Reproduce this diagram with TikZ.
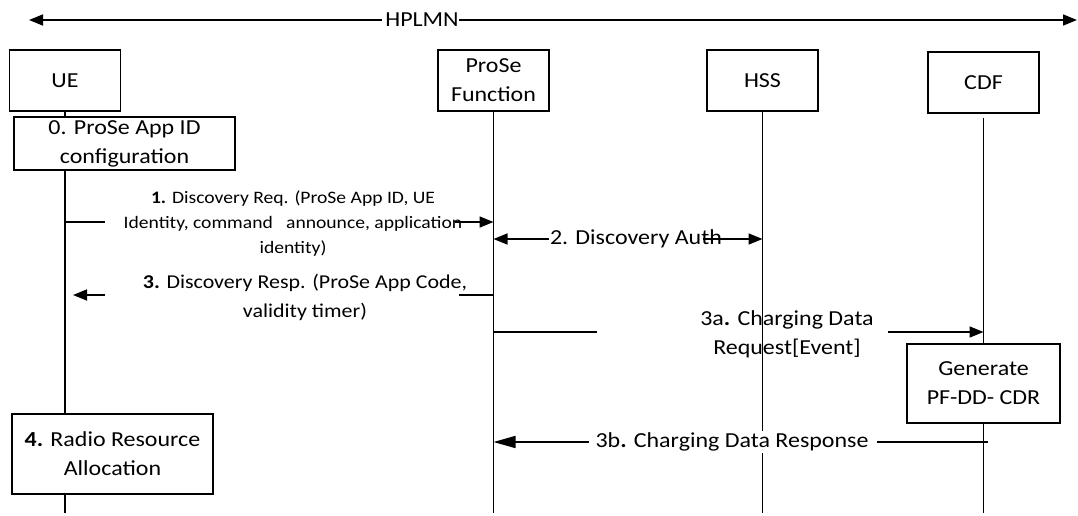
\documentclass[tikz,border=0pt]{standalone}
\usepackage{fontspec}
\setmainfont{Carlito}[FakeStretch=1.12]
\usetikzlibrary{arrows.meta}

\newcommand{\boxfont}{\fontsize{21.4}{29}\selectfont}
\newcommand{\reqfont}{\fontsize{17.5}{25}\selectfont}
\newcommand{\respfont}{\fontsize{19.6}{29}\selectfont}

\tikzset{
	entity/.style={draw, fill=white, minimum width=111pt, minimum height=61pt, align=center, inner sep=0pt, font=\boxfont},
	stepbox/.style={draw, fill=white, align=center, inner sep=0pt, font=\boxfont},
	msg/.style={align=center, inner sep=0pt},
	tip/.style={-{Triangle[length=14pt,width=11pt]}},
	bigtip/.style={-{Triangle[length=22pt,width=12pt]}}
}

\begin{document}
\begin{tikzpicture}[x=1pt,y=-1pt,line width=1.6pt]
	\useasboundingbox (0,0) rectangle (1078,515);
	\coordinate (bot) at (0,513);
	
	% network span
	\node[font=\boxfont, inner sep=0pt] (plmn) at (422,20) {HPLMN};
	\coordinate (plmnL) at (29,20);
	\coordinate (plmnR) at (1077,20);
	\draw[tip] ([xshift=-3pt]plmn.west) -- (plmnL);
	\draw[tip] (plmn.east) -- (plmnR);
	
	% entities and their lifelines
	\node[entity] (ue) at (65,80.5) {UE};
	\node[entity] (pf) at (493.5,80.5) {ProSe\\Function};
	\node[entity] (hss) at (762.5,80.5) {HSS};
	\node[entity] (cdf) at (983.5,82.5) {CDF};
	\foreach \n in {ue,pf,hss}
		\draw (\n.south) -- (\n.south |- bot);
	\draw ([yshift=-4pt]cdf.south) -- (cdf.south |- bot);
	
	% local steps
	\node[stepbox, minimum width=221pt, minimum height=53pt] (s0) at (124.5,143.5) {0. ProSe App ID\\configuration};
	\node[stepbox, minimum width=201pt, minimum height=80pt] (s4) at (112.5,454) {\textbf{4.} Radio Resource\\Allocation};
	\node[stepbox, minimum width=153pt, minimum height=79pt] (gen) at (983.5,383.5) {Generate\\PF-DD- CDR};
	
	% 1. discovery request
	\node[msg, font=\reqfont] (m1) at (293,224) {\textbf{1.} Discovery Req. (ProSe App ID, UE\\Identity, command\ \ \ announce, application\\identity)};
	\coordinate (m1a) at (105,222);
	\coordinate (m1b) at (455,222);
	\draw (ue |- m1a) -- (m1a);
	\draw[tip] (m1b) -- (pf |- m1b);
	
	% 2. discovery auth
	\node[msg, font=\boxfont] (m2) at (636,239) {2. Discovery Auth};
	\draw[tip] (m2.west) -- (pf |- m2);
	\draw[tip] ([xshift=-20pt]m2.east) -- (hss |- m2);
	
	% 3. discovery response
	\node[msg, font=\respfont] (m3) at (305,297) {\textbf{3.} Discovery Resp. (ProSe App Code,\\validity timer)};
	\coordinate (m3a) at (459,295);
	\coordinate (m3b) at (105,295);
	\coordinate (m3c) at (73,295);
	\draw (pf |- m3a) -- (m3a);
	\draw[tip] (m3b) -- (m3c);
	
	% 3a. charging data request
	\node[msg, font=\boxfont] (m3a) at (787,334.5) {3a\textbf{.} Charging Data\\Request[Event]};
	\coordinate (m3aL) at (597,332);
	\coordinate (m3aR) at (888,332);
	\draw (pf |- m3aL) -- (m3aL);
	\draw[tip] (m3aR) -- (cdf |- m3aR);
	
	% 3b. charging data response
	\node[msg, font=\boxfont, fill=white, inner sep=2pt] (m3b) at (732,442) {3b\textbf{.} Charging Data Response};
	\coordinate (m3bR) at (988,442);
	\draw (m3bR) -- ([xshift=6pt]m3b.east);
	\draw[bigtip] ([xshift=-4pt]m3b.west) -- (pf |- m3b);
\end{tikzpicture}
\end{document}
